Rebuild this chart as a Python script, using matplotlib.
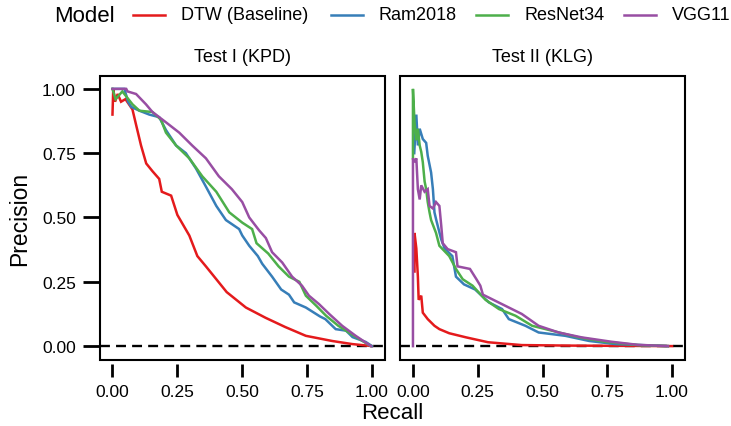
import matplotlib
matplotlib.use("Agg")
import matplotlib.pyplot as plt
from matplotlib.lines import Line2D
from matplotlib.patches import Rectangle

plt.rcParams['font.family'] = ['Liberation Sans', 'DejaVu Sans']

models = ["DTW (Baseline)", "Ram2018", "ResNet34", "VGG11"]
colors = ["#E41A1C", "#377EB8", "#4DAF4A", "#984EA3"]
panels = ["Test I (KPD)", "Test II (KLG)"]
xticks = [0.0, 0.25, 0.5, 0.75, 1.0]
yticks = [0.0, 0.25, 0.5, 0.75, 1.0]
tick_labels = ["0.00", "0.25", "0.50", "0.75", "1.00"]
baseline = 0.0

# ---- Test I (KPD) ----
dtw1_r = [0.0, 0.003, 0.01, 0.02, 0.033, 0.05, 0.077, 0.091, 0.11, 0.13, 0.154, 0.18, 0.19, 0.226,
          0.25, 0.296, 0.327, 0.36, 0.40, 0.44, 0.514, 0.59, 0.666, 0.745, 0.846, 0.923, 1.0]
dtw1_p = [0.90, 1.0, 0.95, 0.98, 0.95, 0.96, 0.92, 0.86, 0.78, 0.71, 0.68, 0.65, 0.60, 0.585,
          0.51, 0.43, 0.35, 0.31, 0.26, 0.21, 0.15, 0.11, 0.074, 0.04, 0.02, 0.008, 0.0]
ram1_r = [0.0, 0.046, 0.06, 0.072, 0.104, 0.142, 0.18, 0.206, 0.245, 0.283, 0.322, 0.36, 0.40,
          0.437, 0.488, 0.50, 0.527, 0.56, 0.577, 0.615, 0.65, 0.68, 0.70, 0.745, 0.80, 0.82, 0.86,
          0.90, 0.925, 0.976, 1.0]
ram1_p = [1.0, 1.0, 0.95, 0.93, 0.915, 0.90, 0.89, 0.84, 0.78, 0.75, 0.69, 0.62, 0.545,
          0.49, 0.455, 0.43, 0.39, 0.35, 0.32, 0.27, 0.22, 0.20, 0.17, 0.15, 0.115, 0.105, 0.066,
          0.06, 0.035, 0.016, 0.0]
res1_r = [0.0, 0.012, 0.038, 0.077, 0.104, 0.154, 0.187, 0.206, 0.245, 0.296, 0.346, 0.40, 0.45,
          0.50, 0.538, 0.555, 0.60, 0.64, 0.68, 0.72, 0.745, 0.785, 0.823, 0.87, 0.92, 0.995]
res1_p = [1.0, 0.96, 0.99, 0.94, 0.915, 0.91, 0.88, 0.83, 0.78, 0.73, 0.66, 0.60, 0.52,
          0.48, 0.455, 0.40, 0.36, 0.31, 0.27, 0.25, 0.196, 0.157, 0.118, 0.079, 0.047, 0.0]
vgg1_r = [0.0, 0.053, 0.058, 0.091, 0.129, 0.154, 0.206, 0.257, 0.307, 0.36, 0.41, 0.46, 0.50,
          0.527, 0.565, 0.591, 0.615, 0.654, 0.692, 0.73, 0.757, 0.796, 0.835, 0.885, 0.937, 0.996]
vgg1_p = [1.0, 1.0, 0.99, 0.98, 0.94, 0.91, 0.87, 0.83, 0.78, 0.73, 0.66, 0.61, 0.56,
          0.50, 0.45, 0.42, 0.365, 0.325, 0.27, 0.235, 0.196, 0.163, 0.125, 0.079, 0.04, 0.0]

# ---- Test II (KLG) ----
dtw2_r = [0.006, 0.006, 0.013, 0.019, 0.022, 0.032, 0.038, 0.057, 0.083, 0.102, 0.14, 0.205,
          0.29, 0.42, 0.60, 0.80, 1.0]
dtw2_p = [0.29, 0.44, 0.38, 0.27, 0.18, 0.196, 0.13, 0.105, 0.079, 0.066, 0.05, 0.034,
          0.015, 0.004, 0.002, 0.001, 0.0]
ram2_r = [0.005, 0.013, 0.019, 0.026, 0.038, 0.051, 0.057, 0.07, 0.077, 0.083, 0.09, 0.109,
          0.122, 0.152, 0.166, 0.197, 0.24, 0.293, 0.344, 0.37, 0.434, 0.485, 0.588, 0.68,
          0.78, 0.984]
ram2_p = [0.75, 0.90, 0.78, 0.845, 0.805, 0.79, 0.74, 0.675, 0.61, 0.52, 0.49, 0.415,
          0.38, 0.35, 0.27, 0.24, 0.22, 0.17, 0.144, 0.105, 0.079, 0.053, 0.04, 0.02,
          0.008, 0.0]
res2_r = [0.0, 0.0, 0.006, 0.013, 0.019, 0.026, 0.032, 0.038, 0.045, 0.051, 0.057, 0.064,
          0.07, 0.089, 0.102, 0.14, 0.166, 0.192, 0.23, 0.28, 0.332, 0.396, 0.46, 0.536,
          0.639, 0.74, 0.868, 0.984]
res2_p = [0.73, 1.0, 0.87, 0.80, 0.845, 0.78, 0.755, 0.715, 0.64, 0.61, 0.56, 0.52,
          0.49, 0.44, 0.39, 0.35, 0.30, 0.26, 0.235, 0.18, 0.144, 0.118, 0.079, 0.06,
          0.034, 0.017, 0.004, 0.0]
vgg2_r = [0.0, 0.0, 0.006, 0.013, 0.019, 0.026, 0.032, 0.045, 0.057, 0.064, 0.077, 0.089,
          0.102, 0.109, 0.115, 0.134, 0.166, 0.172, 0.22, 0.245, 0.26, 0.27, 0.31, 0.356,
          0.42, 0.485, 0.562, 0.651, 0.766, 0.868, 0.984]
vgg2_p = [0.0, 0.73, 0.715, 0.73, 0.61, 0.57, 0.625, 0.60, 0.61, 0.545, 0.535, 0.56,
          0.545, 0.47, 0.40, 0.377, 0.365, 0.31, 0.30, 0.26, 0.235, 0.20, 0.18, 0.157,
          0.125, 0.079, 0.053, 0.034, 0.017, 0.005, 0.0]

curves = [
    [(dtw1_r, dtw1_p), (ram1_r, ram1_p), (res1_r, res1_p), (vgg1_r, vgg1_p)],
    [(dtw2_r, dtw2_p), (ram2_r, ram2_p), (res2_r, res2_p), (vgg2_r, vgg2_p)],
]

W, H = 731, 427
fig = plt.figure(figsize=(W / 100, H / 100), dpi=100)

def fx(px):
    return px / W

def fy(py):
    return 1 - py / H

top, bottom = 77, 361
lefts = [99.5, 400]
rights = [385, 685]
axes = []
for i in range(2):
    ax = fig.add_axes([fx(lefts[i]), fy(bottom), (rights[i] - lefts[i]) / W, (bottom - top) / H])
    axes.append(ax)

for i, ax in enumerate(axes):
    ax.axhline(baseline, color="black", lw=1.7, dashes=(4.2, 2.6), zorder=1)
    for (r, p), c in zip(curves[i], colors):
        ax.plot(r, p, color=c, lw=1.8, zorder=2, solid_joinstyle="miter")
    ax.set_xlim(-0.05, 1.05)
    ax.set_ylim(-0.054, 1.05)
    for s in ax.spines.values():
        s.set_visible(False)
    ax.spines["bottom"].set_position(("outward", 3))
    ax.add_patch(Rectangle((0, 0), 1, 1, transform=ax.transAxes, fill=False,
                           lw=1.5, edgecolor="black", clip_on=False, zorder=5))
    ax.set_xticks(xticks)
    ax.set_xticklabels(tick_labels)
    ax.tick_params(axis="x", length=9.5, width=2, pad=4.5, labelsize=12.5, colors="black")
    if i == 0:
        ax.set_yticks(yticks)
        ax.set_yticklabels(tick_labels)
        ax.tick_params(axis="y", length=12, width=2, pad=5, labelsize=12.5)
    else:
        ax.set_yticks([])
    cx = (lefts[i] + rights[i]) / 2
    fig.text(fx(cx), fy(57), panels[i], ha="center", va="center", fontsize=13)

fig.text(fx(392), fy(414), "Recall", ha="center", va="center", fontsize=16)
fig.text(fx(20), fy(219), "Precision", ha="center", va="center", fontsize=16.5, rotation=90)

# legend
leg_y = 16
fig.text(fx(54), fy(leg_y), "Model", ha="left", va="center", fontsize=16)
line_x = [133, 331, 476, 624]
for lx, c, m in zip(line_x, colors, models):
    fig.add_artist(Line2D([fx(lx), fx(lx + 32)], [fy(leg_y), fy(leg_y)], color=c, lw=1.8,
                          transform=fig.transFigure))
    fig.text(fx(lx + 48), fy(leg_y), m, ha="left", va="center", fontsize=13)

fig.savefig("out.png", dpi=100)
